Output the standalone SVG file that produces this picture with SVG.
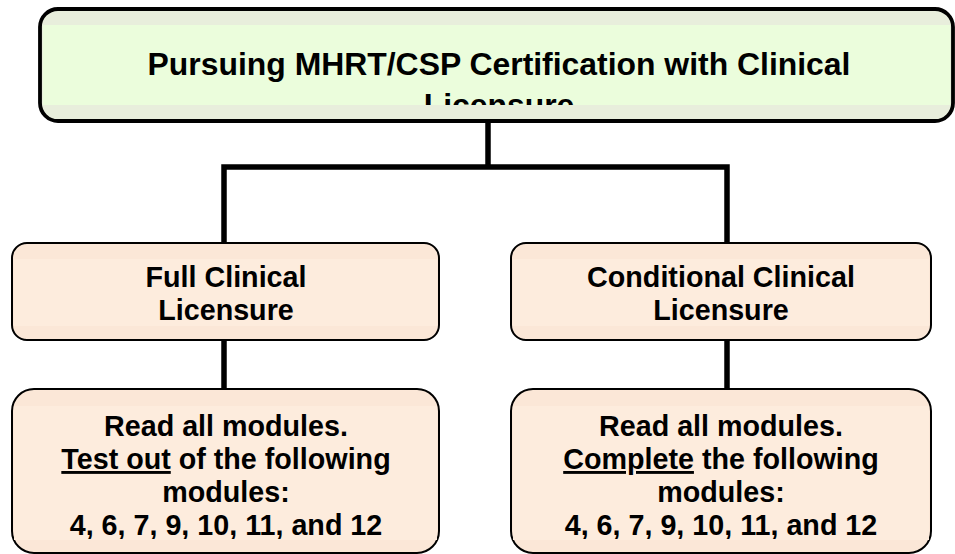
<svg xmlns="http://www.w3.org/2000/svg" width="955" height="554" viewBox="0 0 955 554">
  <style>
    .t { font-family: "Liberation Sans", Arial, sans-serif; font-weight: bold; fill: #000; text-anchor: middle; }
    .title { font-size: 31.9px; }
    .lbl { font-size: 28.7px; }
    .gborder { fill: #e8eedc; stroke: #000; stroke-width: 3.8; }
    .ginner { fill: #ebfddc; }
    .pborder { fill: #fbe7d7; stroke: #000; stroke-width: 2; }
    .pinner { fill: #fdecdd; }
    .conn { fill: none; stroke: #000; stroke-width: 5.5; stroke-linejoin: miter; stroke-linecap: butt; }
  </style>
  <defs>
    <clipPath id="clipTitle"><rect x="40" y="9" width="913" height="96"/></clipPath>
    <clipPath id="clipBL"><rect x="12" y="389" width="428" height="150"/></clipPath>
    <clipPath id="clipBR"><rect x="511" y="389" width="421" height="150"/></clipPath>
  </defs>
  <rect width="955" height="554" fill="#fff"/>

  <g id="connectors">
    <line class="conn" x1="488" y1="122" x2="488" y2="167"/>
    <polyline class="conn" points="224,243 224,167 727,167 727,243"/>
    <line class="conn" x1="224" y1="340" x2="224" y2="389"/>
    <line class="conn" x1="727" y1="340" x2="727" y2="389"/>
  </g>

  <g id="node-root">
    <rect class="gborder" x="40" y="9" width="913" height="112" rx="18"/>
    <rect class="ginner" x="43" y="25" width="907" height="80"/>
    <g clip-path="url(#clipTitle)">
      <text class="t title" x="499" y="75">Pursuing MHRT/CSP Certification with Clinical</text>
      <text class="t title" x="499" y="116">Licensure</text>
    </g>
  </g>

  <g id="node-full">
    <rect class="pborder" x="12" y="243" width="427" height="97" rx="15"/>
    <rect class="pinner" x="14" y="259" width="423" height="67"/>
    <text class="t lbl" x="226" y="287">Full Clinical</text>
    <text class="t lbl" x="226" y="320">Licensure</text>
  </g>

  <g id="node-conditional">
    <rect class="pborder" x="511" y="243" width="420" height="97" rx="15"/>
    <rect class="pinner" x="513" y="259" width="416" height="67"/>
    <text class="t lbl" x="721" y="287">Conditional Clinical</text>
    <text class="t lbl" x="721" y="320">Licensure</text>
  </g>

  <g id="node-full-detail">
    <rect class="pborder" x="12" y="389" width="427" height="164" rx="22"/>
    <rect class="pinner" x="14" y="406" width="423" height="134"/>
    <g clip-path="url(#clipBL)">
      <text class="t lbl" x="226" y="436">Read all modules.</text>
      <text class="t lbl" x="226" y="469"><tspan text-decoration="underline">Test out</tspan> of the following</text>
      <text class="t lbl" x="226" y="502">modules:</text>
      <text class="t lbl" x="226" y="535">4, 6, 7, 9, 10, 11, and 12</text>
    </g>
  </g>

  <g id="node-conditional-detail">
    <rect class="pborder" x="511" y="389" width="420" height="164" rx="22"/>
    <rect class="pinner" x="513" y="406" width="416" height="134"/>
    <g clip-path="url(#clipBR)">
      <text class="t lbl" x="721" y="436">Read all modules.</text>
      <text class="t lbl" x="721" y="469"><tspan text-decoration="underline">Complete</tspan> the following</text>
      <text class="t lbl" x="721" y="502">modules:</text>
      <text class="t lbl" x="721" y="535">4, 6, 7, 9, 10, 11, and 12</text>
    </g>
  </g>
</svg>
